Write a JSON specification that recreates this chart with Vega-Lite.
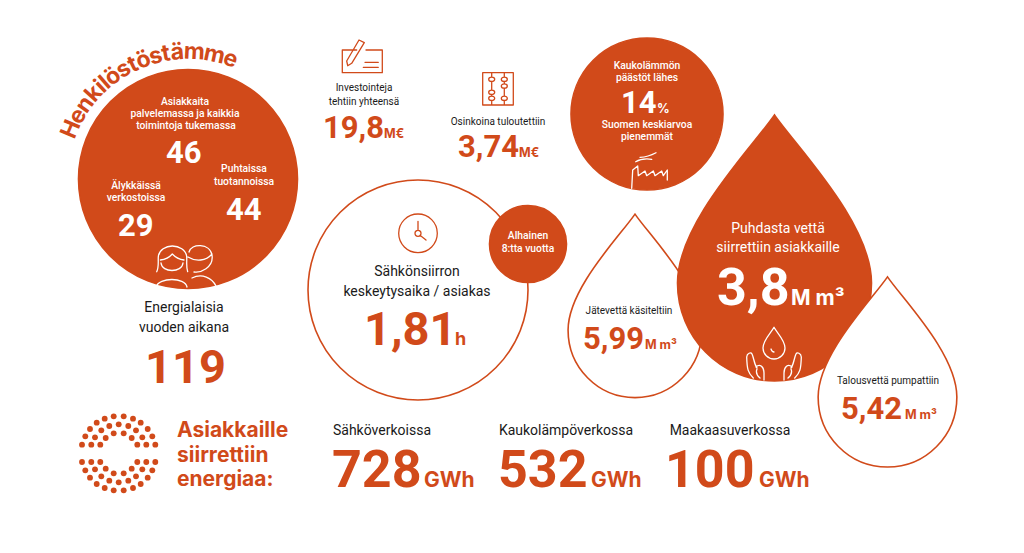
{
  "$schema": "https://vega.github.io/schema/vega-lite/v6.json",
  "width": 1024,
  "height": 553,
  "padding": 0,
  "autosize": "none",
  "background": "white",
  "config": {"view": {"stroke": null}, "font": "Inter"},
  "datasets": {
    "forms": [
      {"item": "drop_left", "form": "drop", "tone": "paper", "x": 635, "y": 330},
      {"item": "drop_big", "form": "drop", "tone": "brand", "x": 774.5, "y": 283},
      {"item": "drop_right", "form": "drop", "tone": "paper", "x": 887.5, "y": 397},
      {"item": "people", "form": "circle", "tone": "brand", "x": 188, "y": 179},
      {"item": "outage", "form": "circle", "tone": "paper", "x": 418, "y": 290},
      {"item": "low", "form": "circle", "tone": "brand", "x": 528, "y": 244},
      {"item": "emissions", "form": "circle", "tone": "brand", "x": 647, "y": 114}
    ],
    "icons": [
      {"icon": "cheque", "tone": "brand", "x": 360, "y": 55},
      {"icon": "abacus", "tone": "brand", "x": 498, "y": 89},
      {"icon": "clock", "tone": "brand", "x": 418, "y": 233.3},
      {"icon": "factory", "tone": "light", "x": 650, "y": 170},
      {"icon": "persons", "tone": "light", "x": 188, "y": 265},
      {"icon": "hands", "tone": "light", "x": 774, "y": 345}
    ],
    "dots": [
      {"x": 82, "y": 444.7}, {"x": 85.3, "y": 436.3}, {"x": 90, "y": 429}, {"x": 96.7, "y": 422.7}, {"x": 104.7, "y": 418.7}, {"x": 113.7, "y": 416.3},
      {"x": 123.7, "y": 416.3}, {"x": 133, "y": 418.7}, {"x": 140.7, "y": 422.7}, {"x": 147.7, "y": 429}, {"x": 152.3, "y": 436.3}, {"x": 155.3, "y": 444.7},
      {"x": 91.3, "y": 444.7}, {"x": 95, "y": 437.3}, {"x": 101.3, "y": 430.3}, {"x": 109.3, "y": 426}, {"x": 118.7, "y": 424.3}, {"x": 128.3, "y": 426},
      {"x": 136, "y": 430.3}, {"x": 142.3, "y": 437.3}, {"x": 146.3, "y": 444.7},
      {"x": 100.3, "y": 444.7}, {"x": 105.7, "y": 438}, {"x": 113.7, "y": 433.3}, {"x": 123.7, "y": 433.3}, {"x": 131.7, "y": 438}, {"x": 137.3, "y": 444.7},
      {"x": 82, "y": 462}, {"x": 85.3, "y": 470.3}, {"x": 90, "y": 477.7}, {"x": 96.7, "y": 484}, {"x": 104.7, "y": 488}, {"x": 113.7, "y": 490.3},
      {"x": 123.7, "y": 490.3}, {"x": 133, "y": 488}, {"x": 140.7, "y": 484}, {"x": 147.7, "y": 477.7}, {"x": 152.3, "y": 470.3}, {"x": 155.3, "y": 462},
      {"x": 91.3, "y": 462}, {"x": 95, "y": 469.3}, {"x": 101.3, "y": 476.3}, {"x": 109.3, "y": 480.7}, {"x": 118.7, "y": 482.3}, {"x": 128.3, "y": 480.7},
      {"x": 136, "y": 476.3}, {"x": 142.3, "y": 469.3}, {"x": 146.3, "y": 462},
      {"x": 100.3, "y": 462}, {"x": 105.7, "y": 468.7}, {"x": 113.7, "y": 473.3}, {"x": 123.7, "y": 473.3}, {"x": 131.7, "y": 468.7}, {"x": 137.3, "y": 462}
    ],
    "letters": [
      {"letter": "H", "tilt": -67, "x": 77.5, "y": 132.1},
      {"letter": "e", "tilt": -60.3, "x": 83.8, "y": 119.5},
      {"letter": "n", "tilt": -54.1, "x": 90.8, "y": 108.6},
      {"letter": "k", "tilt": -47.8, "x": 99.1, "y": 98.4},
      {"letter": "i", "tilt": -43.4, "x": 105.5, "y": 91.8},
      {"letter": "l", "tilt": -40.7, "x": 109.7, "y": 88},
      {"letter": "ö", "tilt": -36.3, "x": 117, "y": 82.3},
      {"letter": "s", "tilt": -30.5, "x": 127.1, "y": 75.6},
      {"letter": "t", "tilt": -25.7, "x": 136, "y": 70.9},
      {"letter": "ö", "tilt": -20.6, "x": 145.8, "y": 66.7},
      {"letter": "s", "tilt": -14.8, "x": 157.4, "y": 63},
      {"letter": "t", "tilt": -10, "x": 167.2, "y": 60.8},
      {"letter": "ä", "tilt": -4.9, "x": 177.8, "y": 59.4},
      {"letter": "m", "tilt": 2.8, "x": 193.9, "y": 59.1},
      {"letter": "m", "tilt": 12, "x": 212.9, "y": 61.6},
      {"letter": "e", "tilt": 19.6, "x": 228.3, "y": 65.9}
    ],
    "notes": [
      {"label": "Asiakkaita", "x": 185, "y": 101.5},
      {"label": "palvelemassa ja kaikkia", "x": 185, "y": 113.5},
      {"label": "toimintoja tukemassa", "x": 186, "y": 125.5},
      {"label": "Puhtaissa", "x": 244, "y": 169},
      {"label": "tuotannoissa", "x": 244, "y": 182},
      {"label": "Älykkäissä", "x": 136, "y": 186},
      {"label": "verkostoissa", "x": 136, "y": 198},
      {"label": "Alhainen", "x": 528, "y": 236},
      {"label": "8:tta vuotta", "x": 528, "y": 249},
      {"label": "Kaukolämmön", "x": 647, "y": 66},
      {"label": "päästöt lähes", "x": 647, "y": 78},
      {"label": "Suomen keskiarvoa", "x": 647, "y": 125},
      {"label": "pienemmät", "x": 647, "y": 137}
    ],
    "labels": [
      {"label": "Investointeja", "role": "caption", "tone": "ink", "x": 364, "y": 88},
      {"label": "tehtiin yhteensä", "role": "caption", "tone": "ink", "x": 364, "y": 102},
      {"label": "Osinkoina tuloutettiin", "role": "caption", "tone": "ink", "x": 498, "y": 122},
      {"label": "Jätevettä käsiteltiin", "role": "caption", "tone": "ink", "x": 629, "y": 311},
      {"label": "Talousvettä pumpattiin", "role": "caption", "tone": "ink", "x": 888, "y": 381},
      {"label": "Energialaisia", "role": "lead", "tone": "ink", "x": 184, "y": 308},
      {"label": "vuoden aikana", "role": "lead", "tone": "ink", "x": 184, "y": 328},
      {"label": "Sähkönsiirron", "role": "lead", "tone": "ink", "x": 417, "y": 272},
      {"label": "keskeytysaika / asiakas", "role": "lead", "tone": "ink", "x": 417, "y": 292},
      {"label": "Puhdasta vettä", "role": "lead", "tone": "light", "x": 778, "y": 229},
      {"label": "siirrettiin asiakkaille", "role": "lead", "tone": "light", "x": 778, "y": 248},
      {"label": "Sähköverkoissa", "role": "lead", "tone": "ink", "x": 382, "y": 431},
      {"label": "Kaukolämpöverkossa", "role": "lead", "tone": "ink", "x": 566, "y": 431},
      {"label": "Maakaasuverkossa", "role": "lead", "tone": "ink", "x": 730, "y": 431}
    ],
    "figures": [
      {"label": "46", "role": "figure_m", "tone": "light", "x": 166, "y": 163},
      {"label": "44", "role": "figure_m", "tone": "light", "x": 226, "y": 220},
      {"label": "29", "role": "figure_m", "tone": "light", "x": 118, "y": 236},
      {"label": "19,8", "role": "figure_m", "tone": "brand", "x": 323, "y": 138},
      {"label": "3,74", "role": "figure_m", "tone": "brand", "x": 458, "y": 157},
      {"label": "14", "role": "figure_m", "tone": "light", "x": 621, "y": 113},
      {"label": "3,8", "role": "figure_l", "tone": "light", "x": 717, "y": 305},
      {"label": "5,99", "role": "figure_m", "tone": "brand", "x": 583, "y": 349},
      {"label": "5,42", "role": "figure_m", "tone": "brand", "x": 841, "y": 419},
      {"label": "119", "role": "figure_t", "tone": "brand", "x": 145, "y": 383},
      {"label": "1,81", "role": "figure_t", "tone": "brand", "x": 364, "y": 345},
      {"label": "728", "role": "figure_l", "tone": "brand", "x": 332, "y": 487},
      {"label": "532", "role": "figure_l", "tone": "brand", "x": 498, "y": 487},
      {"label": "100", "role": "figure_l", "tone": "brand", "x": 665, "y": 487}
    ],
    "units": [
      {"label": "M€", "role": "unit_s", "tone": "brand", "x": 384, "y": 138},
      {"label": "M€", "role": "unit_s", "tone": "brand", "x": 519, "y": 157},
      {"label": "h", "role": "unit_m", "tone": "brand", "x": 455, "y": 345},
      {"label": "%", "role": "unit_s", "tone": "light", "x": 657, "y": 113},
      {"label": "M m³", "role": "unit_l", "tone": "light", "x": 791, "y": 305},
      {"label": "M m³", "role": "unit_s", "tone": "brand", "x": 645, "y": 349},
      {"label": "M m³", "role": "unit_s", "tone": "brand", "x": 905, "y": 419},
      {"label": "Asiakkaille", "role": "unit_l", "tone": "brand", "x": 177, "y": 436.5},
      {"label": "siirrettiin", "role": "unit_l", "tone": "brand", "x": 177, "y": 461.5},
      {"label": "energiaa:", "role": "unit_l", "tone": "brand", "x": 177, "y": 486},
      {"label": "GWh", "role": "unit_l", "tone": "brand", "x": 424, "y": 487},
      {"label": "GWh", "role": "unit_l", "tone": "brand", "x": 591, "y": 487},
      {"label": "GWh", "role": "unit_l", "tone": "brand", "x": 759, "y": 487}
    ]
  },
  "encoding": {
    "x": {"field": "x", "type": "quantitative", "axis": null, "scale": {"domain": [0, 1024], "nice": false, "zero": false}},
    "y": {"field": "y", "type": "quantitative", "axis": null, "scale": {"domain": [553, 0], "nice": false, "zero": false}}
  },
  "layer": [
    {
      "data": {"name": "forms"},
      "mark": {"type": "point", "filled": true, "opacity": 1, "strokeWidth": 1.6, "clip": false},
      "encoding": {
        "shape": {
          "field": "form", "type": "nominal", "legend": null,
          "scale": {"domain": ["drop", "circle"], "range": ["M0,-168 C-22,-136 -97,-60 -97,0 C-97,54 -54,98 0,98 C54,98 97,54 97,0 C97,-60 22,-136 0,-168Z", "circle"]}
        },
        "size": {
          "field": "item", "type": "nominal", "legend": null,
          "scale": {"type": "ordinal", "domain": ["drop_left", "drop_big", "drop_right", "people", "outage", "low", "emissions"], "range": [1.904, 4, 2.045, 47961, 48400, 5929, 23104]}
        },
        "fill": {"field": "tone", "type": "nominal", "legend": null, "scale": {"domain": ["brand", "paper"], "range": ["#D14A1A", "#FFFFFF"]}},
        "stroke": {"value": "#D14A1A"}
      }
    },
    {
      "data": {"name": "icons"},
      "mark": {"type": "point", "filled": false, "opacity": 1, "size": 4, "strokeWidth": 1.3, "strokeCap": "round", "strokeJoin": "round"},
      "encoding": {
        "shape": {
          "field": "icon", "type": "nominal", "legend": null,
          "scale": {
            "domain": ["cheque", "abacus", "clock", "factory", "persons", "hands"],
            "range": [
              "M-3.3,-5 L-17.7,-5 L-17.7,17.7 L22.3,17.7 L22.3,-5 L6,-5 M-1,-15 L4.3,-12.3 L-8.3,8.3 L-12.3,10.7 L-13.3,6Z M5,7.3 L18.3,7.3 M3.3,12.3 L18.3,12.3",
              "M-15.3,-16.3 L15.3,-16.3 L15.3,16 L-15.3,16Z M-6.3,-16.3 L-6.3,-12 M-6.3,-7.5 L-6.3,1 M-6.3,5.5 L-6.3,7 M-6.3,11.5 L-6.3,16 M6.3,-16.3 L6.3,-12 M6.3,-7.5 L6.3,-5.2 M6.3,-0.8 L6.3,7 M6.3,11.5 L6.3,16 M-9.3,-9.7 a3,2.2 0 1,0 6,0 a3,2.2 0 1,0 -6,0 M-9.3,3.3 a3,2.2 0 1,0 6,0 a3,2.2 0 1,0 -6,0 M-9.3,9.3 a3,2.2 0 1,0 6,0 a3,2.2 0 1,0 -6,0 M3.3,-9.7 a3,2.2 0 1,0 6,0 a3,2.2 0 1,0 -6,0 M3.3,-3 a3,2.2 0 1,0 6,0 a3,2.2 0 1,0 -6,0 M3.3,9.3 a3,2.2 0 1,0 6,0 a3,2.2 0 1,0 -6,0",
              "M-19.3,0 a19.3,19.3 0 1,0 38.6,0 a19.3,19.3 0 1,0 -38.6,0 M0,-12 L0,-3 M-3,0 a3,3 0 1,0 6,0 a3,3 0 1,0 -6,0 M2,2 L8,6.7",
              "M-18.3,18.3 L-17.3,0 L-12.3,-4 L-11.7,5.7 L-5,1 L-3.3,5.7 L3.3,1 L5,5.7 L11.7,1 L13.3,5.7 L17.3,0 L17.3,10 M-10,-12.7 Q-2,-13 6,-17.3 M-14.3,-8.3 Q-8,-12 1.7,-10.7",
              "M-31.3,6.7 C-29,2 -30,-3 -29.7,-8.3 C-29,-15 -22,-19 -15.7,-19 C-9,-19 -2,-15 -1.3,-8.3 C-1,-3 -2,2 -0.3,6.7 M-27.6,-5 Q-20,-6 -15.7,-11 Q-11,-6 -4,-5 M-27,-2 C-26,8 -6,8 -5,-2 M-32,22 C-29,12 -3,12 -1,22 M1,-13 C3,-22 22,-22 24,-10 C26,3 12,8 6,7 M0,-8 C8,-3 18,-4 24,-11 M4,13 C14,8 24,13 28,21",
              "M0,-17.7 C-3,-12 -11,-5 -11,3 C-11,9 -6,14 0,14 C6,14 11,9 11,3 C11,-5 3,-12 0,-17.7Z M-3,4 Q-2,7 0,7 M-20.7,33 C-26,28 -27,24 -27.3,12 C-27,8 -23,7 -22,9 C-20,13 -20,19 -17,23 M-18,22 C-14,18 -10,22 -10,28 L-10,35 M-17,24 Q-19,29 -14,33 M20.7,33 C26,28 27,24 27.3,12 C27,8 23,7 22,9 C20,13 20,19 17,23 M18,22 C14,18 10,22 10,28 L10,35 M17,24 Q19,29 14,33"
            ]
          }
        },
        "stroke": {"field": "tone", "type": "nominal", "legend": null, "scale": {"domain": ["brand", "light"], "range": ["#D14A1A", "#FFFFFF"]}}
      }
    },
    {
      "data": {"name": "dots"},
      "mark": {"type": "circle", "size": 34, "opacity": 1, "color": "#D14A1A"}
    },
    {
      "data": {"name": "letters"},
      "mark": {"type": "text", "fontSize": 23, "fontWeight": "bold", "align": "center", "baseline": "alphabetic", "color": "#D14A1A"},
      "encoding": {
        "text": {"field": "letter"},
        "angle": {"field": "tilt", "type": "quantitative", "scale": null}
      }
    },
    {
      "data": {"name": "notes"},
      "mark": {"type": "text", "align": "center", "baseline": "middle", "font": "Roboto", "fontSize": 10.3, "fontWeight": 500, "color": "#FFFFFF"},
      "encoding": {"text": {"field": "label"}}
    },
    {
      "data": {"name": "labels"},
      "mark": {"type": "text", "align": "center", "baseline": "middle", "font": "Roboto"},
      "encoding": {
        "text": {"field": "label"},
        "size": {"field": "role", "type": "nominal", "legend": null, "scale": {"type": "ordinal", "domain": ["caption", "lead"], "range": [10, 14]}},
        "color": {"field": "tone", "type": "nominal", "legend": null, "scale": {"domain": ["light", "ink"], "range": ["#FFFFFF", "#1A1A1A"]}}
      }
    },
    {
      "data": {"name": "figures"},
      "mark": {"type": "text", "align": "left", "baseline": "alphabetic", "font": "Roboto", "fontWeight": "bold"},
      "encoding": {
        "text": {"field": "label"},
        "size": {"field": "role", "type": "nominal", "legend": null, "scale": {"type": "ordinal", "domain": ["figure_m", "figure_t", "figure_l"], "range": [31, 47, 52]}},
        "color": {"field": "tone", "type": "nominal", "legend": null, "scale": {"domain": ["light", "brand"], "range": ["#FFFFFF", "#D14A1A"]}}
      }
    },
    {
      "data": {"name": "units"},
      "mark": {"type": "text", "align": "left", "baseline": "alphabetic", "fontWeight": "bold"},
      "encoding": {
        "text": {"field": "label"},
        "size": {"field": "role", "type": "nominal", "legend": null, "scale": {"type": "ordinal", "domain": ["unit_s", "unit_m", "unit_l"], "range": [12.5, 18, 21]}},
        "color": {"field": "tone", "type": "nominal", "legend": null, "scale": {"domain": ["light", "brand"], "range": ["#FFFFFF", "#D14A1A"]}}
      }
    }
  ],
  "resolve": {"scale": {"size": "independent", "shape": "independent", "color": "independent", "fill": "independent", "stroke": "independent"}}
}
